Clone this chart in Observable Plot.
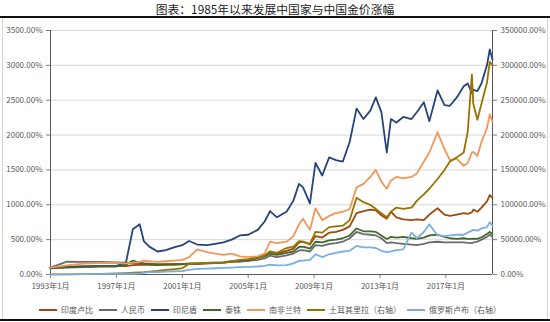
<!DOCTYPE html>
<html><head><meta charset="utf-8">
<script src="https://cdn.jsdelivr.net/npm/d3@7"></script>
<script src="https://cdn.jsdelivr.net/npm/@observablehq/plot@0.6"></script>
<style>
body{margin:0;background:#fff;font-family:"Noto Sans CJK SC",sans-serif;}
#wrap{position:relative;width:550px;height:322px;overflow:hidden;background:#fff}
#title{position:absolute;top:0;left:0;width:550px;height:16px;line-height:17px;text-align:center;font-size:11.8px;color:#222;border-bottom:2px solid #111}
#frame{position:absolute;top:18px;left:2px;width:544px;height:301px;border-left:1px solid #d4d4d4;border-right:1px solid #d4d4d4}
#chart{position:absolute;top:18px;left:0;width:550px;height:282px}
#legend{position:absolute;top:300px;left:0;width:540px;height:19px;display:flex;justify-content:center;align-items:center;gap:6px;font-size:8px;color:#595959}
#legend .it{display:flex;align-items:center;white-space:nowrap}
#legend .sw{display:inline-block;width:18px;height:2px;margin-right:4px}
#bottom{position:absolute;top:319px;left:0;width:550px;height:2px;background:#111}
</style></head>
<body><div id="wrap">
<div id="title">图表：1985年以来发展中国家与中国金价涨幅</div>
<div id="frame"></div>
<div id="chart"></div>
<div id="legend"></div>
<div id="bottom"></div>
</div>
<script>
const dates = ["1993-01","1994-01","1995-01","1996-01","1997-01","1997-08","1998-01","1998-06","1998-09","1999-01",
"1999-07","2000-01","2000-07","2001-01","2001-06","2001-12","2002-07","2003-01","2003-07","2004-01",
"2004-07","2005-01","2005-08","2006-01","2006-05","2006-10","2007-05","2007-10","2008-02","2008-05",
"2008-10","2009-02","2009-07","2009-12","2010-05","2010-10","2011-03","2011-08","2012-01","2012-06",
"2012-10","2013-02","2013-06","2013-09","2014-01","2014-06","2014-12","2015-04","2015-09","2016-01",
"2016-07","2016-12","2017-04","2017-09","2018-02","2018-05","2018-08","2018-09","2018-12","2019-03",
"2019-07","2019-09","2019-11"];

const seriesNames = ["印度卢比","人民币","印尼盾","泰铢","南非兰特","土耳其里拉（右轴）","俄罗斯卢布（右轴）"];
const seriesColors = ["#9E480E","#6B6B6B","#264478","#43682B","#F1975A","#997300","#7CAFDD"];

// left axis series (%)
const inr = [100,110,115,120,125,120,135,140,140,140,
135,140,140,145,150,150,160,165,170,180,
190,200,240,270,330,300,340,370,460,470,
430,550,530,600,610,640,690,880,910,930,
920,850,800,900,820,790,780,790,780,860,
950,860,840,860,880,870,890,930,900,960,
1050,1140,1100];
const cny = [100,185,180,180,175,170,165,165,160,155,
150,150,150,150,150,155,160,165,170,180,
185,195,210,230,270,250,275,300,345,350,
330,420,410,440,450,470,520,610,580,570,
560,520,450,460,450,440,430,420,440,460,
470,460,460,460,460,455,450,460,470,500,
540,570,540];
const idr = [100,110,115,120,125,170,650,720,480,400,
330,350,390,420,480,430,420,440,460,500,
560,570,640,760,910,820,900,1060,1300,1250,
1020,1600,1420,1680,1640,1620,1900,2380,2230,2350,
2540,2330,1750,2230,2180,2260,2230,2330,2470,2200,
2640,2430,2420,2540,2700,2740,2600,2650,2630,2740,
3000,3230,3080];
const thb = [90,100,105,115,115,140,200,170,155,150,
140,145,150,150,160,160,165,170,175,190,
200,210,235,260,300,280,310,330,395,400,
370,470,460,490,500,520,560,660,620,620,
610,560,510,540,530,540,520,510,530,560,
570,540,520,510,520,510,510,515,510,535,
580,610,580];
const zar = [100,130,155,165,165,160,170,180,200,190,
180,190,200,210,250,360,320,300,280,300,
260,250,260,300,470,450,470,550,720,800,
640,950,780,840,880,900,940,1250,1300,1400,
1500,1330,1230,1350,1400,1380,1400,1450,1620,1750,
2040,1800,1640,1660,1560,1600,1750,1760,1700,1900,
2100,2300,2190];
// right axis series (%)
const tryL = [100,300,600,900,1500,2000,2500,3000,3300,4000,
5000,6500,7500,9000,15500,16000,16500,17000,17500,19000,
21000,22000,24000,27000,33000,31000,38000,40000,48000,47000,
44000,61000,60000,68000,69000,70000,78000,110000,103700,100000,
94000,88000,82000,90000,96000,94000,96000,106000,115000,123000,
137000,150000,162000,168000,175000,205000,287000,245000,222000,245000,
275000,305000,300000];
const rub = [100,300,600,800,1000,1100,1100,1200,2500,3300,
3500,4000,4500,5000,6500,8000,8500,9000,9500,10000,
10500,11000,11500,12500,14000,13000,13500,16000,19500,20000,
21000,29000,25000,29000,31000,33000,34000,41000,39000,39000,
38000,34000,32000,33000,35000,36000,60000,52000,61000,72000,
56000,55000,56000,57000,57000,60000,63000,64000,63000,66000,
68000,75000,70000];

const leftTicks = [0,500,1000,1500,2000,2500,3000,3500];
const axisRatio = 100; // right axis = left axis x 100
const xTickYears = [1993,1997,2001,2005,2009,2013,2017];

const parse = d3.utcParse("%Y-%m");
const leftSeries = [inr, cny, idr, thb, zar];
const rightSeries = [tryL, rub];
const rows = [];
leftSeries.forEach((vals, i) => vals.forEach((v, j) => rows.push({name: seriesNames[i], date: parse(dates[j]), y: v})));
rightSeries.forEach((vals, i) => vals.forEach((v, j) => rows.push({name: seriesNames[5 + i], date: parse(dates[j]), y: v / axisRatio})));

const x0 = parse(dates[0]), x1 = parse(dates[dates.length - 1]);
const xTicks = xTickYears.map(y => new Date(Date.UTC(y, 0, 1)));

const chart = Plot.plot({
  width: 550, height: 282,
  marginTop: 12, marginBottom: 26, marginLeft: 50, marginRight: 58,
  style: {fontFamily: '"Noto Sans CJK SC", sans-serif', fontSize: "8px", color: "#595959", background: "transparent", overflow: "visible"},
  x: {type: "utc", domain: [x0, x1]},
  y: {domain: [0, 3500]},
  color: {domain: seriesNames, range: seriesColors},
  marks: [
    Plot.ruleY(leftTicks.filter(v => v > 0), {stroke: "#d9d9d9", strokeWidth: 1}),
    Plot.axisY(leftTicks, {anchor: "left", tickSize: 4, tickPadding: 4, tickFormat: d => d.toFixed(2) + "%", label: null, stroke: "#7f7f7f"}),
    Plot.axisY(leftTicks, {anchor: "right", tickSize: 4, tickPadding: 4, tickFormat: d => (d * axisRatio).toFixed(2) + "%", label: null, stroke: "#7f7f7f"}),
    Plot.axisX(xTicks, {tickSize: 4, tickPadding: 5, tickFormat: d => d.getUTCFullYear() + "年1月", label: null, stroke: "#7f7f7f"}),
    Plot.ruleX([x0], {stroke: "#595959", strokeWidth: 1}),
    Plot.ruleX([x1], {stroke: "#595959", strokeWidth: 1}),
    Plot.ruleY([0], {stroke: "#595959", strokeWidth: 1}),
    Plot.lineY(rows, {x: "date", y: "y", z: "name", stroke: "name", strokeWidth: 1.8, strokeLinejoin: "round"})
  ]
});
document.getElementById("chart").appendChild(chart);

const lg = document.getElementById("legend");
seriesNames.forEach((n, i) => {
  const it = document.createElement("div");
  it.className = "it";
  it.innerHTML = `<span class="sw" style="background:${seriesColors[i]}"></span><span>${n}</span>`;
  lg.appendChild(it);
});
</script>
</body></html>
